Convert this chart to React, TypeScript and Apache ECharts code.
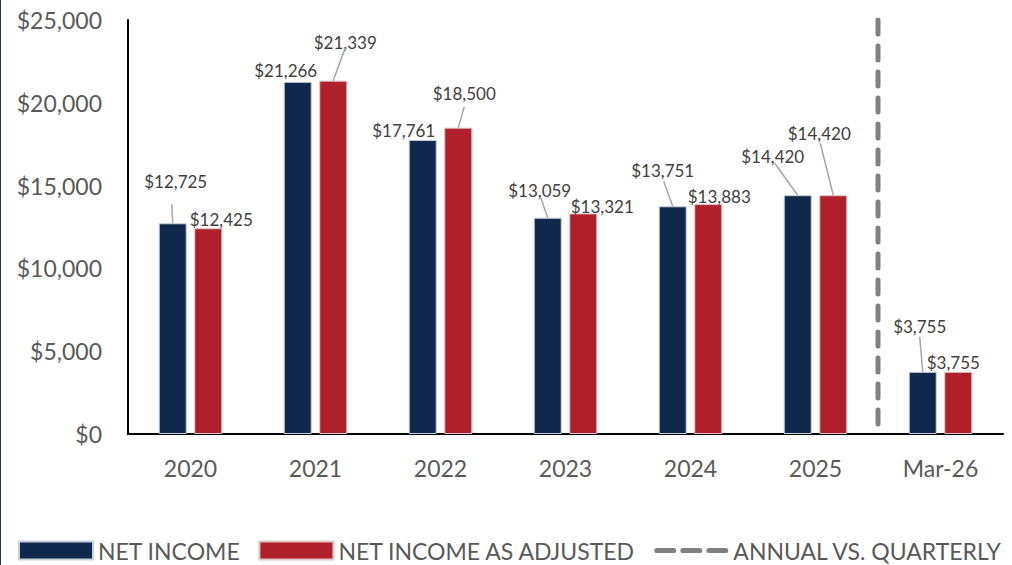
import React, { useEffect, useRef } from "react";
import * as echarts from "echarts";

const categories = ["2020", "2021", "2022", "2023", "2024", "2025", "Mar-26"];
const netIncome = [12725, 21266, 17761, 13059, 13751, 14420, 3755];
const netIncomeAdjusted = [12425, 21339, 18500, 13321, 13883, 14420, 3755];
const yMin = 0;
const yMax = 25000;
const yInterval = 5000;
const seriesNames = ["NET INCOME", "NET INCOME AS ADJUSTED", "ANNUAL VS. QUARTERLY"];
// divider sits at the boundary before the quarterly category
const dividerIndex = categories.indexOf("Mar-26");

// label placement (pixel offsets from default top position)
const niLabelOffsets = [[3, -33], [-12, -3], [-19, -1], [-8, -19], [-10, -27], [-25, -30], [-3, -37]];
const adjLabelOffsets = [[13, 0], [12, -30], [6, -26], [19, 2], [11, 1], [-14, -53], [-5, -1]];
// leader line end point, relative to bar top centre (null = no leader line)
const niLeaders: (number[] | null)[] = [[-1, -19], null, null, [-7, -20], [-9, -25], [-23, -32], [-3, -35]];
const adjLeaders: (number[] | null)[] = [null, [12, -33], [6, -21], null, null, [-13, -52], null];

const FONT = "Lato";
const NAVY = "#0f284b";
const RED = "#b0202a";
const TEXT = "#595959";
const BAR_WIDTH = 28;
const BAR_GAP = 0.27;
const BAR_SHIFT = (BAR_WIDTH + BAR_WIDTH * BAR_GAP) / 2;

const DASH_ICON =
  "path://M2.5 0H18.5A2.5 2.5 0 0 1 18.5 5H2.5A2.5 2.5 0 0 1 2.5 0Z" +
  "M27.5 0H43.5A2.5 2.5 0 0 1 43.5 5H27.5A2.5 2.5 0 0 1 27.5 0Z" +
  "M52.5 0H68.5A2.5 2.5 0 0 1 68.5 5H52.5A2.5 2.5 0 0 1 52.5 0Z";

const money = (v: number) => "$" + Number(v).toLocaleString("en-US");

function leaderSeries(values: number[], leaders: (number[] | null)[], shift: number) {
  return {
    type: "custom",
    xAxisIndex: 0,
    silent: true,
    z: 3,
    renderItem: (params: any, api: any) => {
      const l = leaders[params.dataIndex];
      if (!l) return null;
      const p = api.coord([api.value(0), api.value(1)]);
      const x = p[0] + shift;
      const y = p[1];
      return {
        type: "line",
        shape: { x1: x, y1: y, x2: x + l[0], y2: y + l[1] },
        style: { stroke: "#a6a6a6", lineWidth: 1.5 },
      };
    },
    data: values.map((v, i) => [i, v]),
  };
}

export default function App() {
  const ref = useRef<HTMLDivElement>(null);
  useEffect(() => {
    if (!ref.current) return;
    const chart = echarts.init(ref.current, undefined, { renderer: "svg" });
    const labelBase = {
      show: true,
      position: "top",
      distance: 0,
      fontFamily: FONT,
      fontSize: 17,
      color: "#404040",
      formatter: (p: any) => money(p.value),
    };
    chart.setOption({
      animation: false,
      textStyle: { fontFamily: FONT },
      grid: { left: 128, right: 9, top: 20, bottom: 131, containLabel: false },
      legend: {
        left: 18,
        top: 539,
        padding: 0,
        itemWidth: 74,
        itemHeight: 18,
        itemGap: 18,
        textStyle: { fontFamily: FONT, fontSize: 23, color: TEXT },
        data: [
          { name: seriesNames[0], icon: "rect" },
          { name: seriesNames[1], icon: "rect" },
          { name: seriesNames[2], icon: DASH_ICON },
        ],
      },
      xAxis: [
        {
          type: "category",
          data: categories,
          axisLine: { show: true, lineStyle: { color: "#000", width: 2 } },
          axisTick: { show: false },
          axisLabel: { fontFamily: FONT, fontSize: 23, color: TEXT, margin: 22 },
        },
        {
          type: "value",
          min: 0,
          max: categories.length,
          show: false,
        },
      ],
      yAxis: {
        type: "value",
        min: yMin,
        max: yMax,
        interval: yInterval,
        axisLine: { show: true, lineStyle: { color: "#000", width: 2 } },
        axisTick: { show: false },
        splitLine: { show: false },
        axisLabel: {
          fontFamily: FONT,
          fontSize: 23,
          color: TEXT,
          margin: 26,
          formatter: (v: number) => money(v),
        },
      },
      series: [
        {
          name: seriesNames[0],
          type: "bar",
          barWidth: BAR_WIDTH,
          barGap: BAR_GAP * 100 + "%",
          itemStyle: { color: NAVY, borderColor: "#c9d0da", borderWidth: 1 },
          label: labelBase,
          labelLayout: (p: any) => ({
            dx: niLabelOffsets[p.dataIndex][0],
            dy: niLabelOffsets[p.dataIndex][1],
          }),
          data: netIncome,
        },
        {
          name: seriesNames[1],
          type: "bar",
          barWidth: BAR_WIDTH,
          barGap: BAR_GAP * 100 + "%",
          itemStyle: { color: RED, borderColor: "#e0c4c6", borderWidth: 1 },
          label: labelBase,
          labelLayout: (p: any) => ({
            dx: adjLabelOffsets[p.dataIndex][0],
            dy: adjLabelOffsets[p.dataIndex][1],
          }),
          data: netIncomeAdjusted,
        },
        leaderSeries(netIncome, niLeaders, -BAR_SHIFT),
        leaderSeries(netIncomeAdjusted, adjLeaders, BAR_SHIFT),
        {
          name: seriesNames[2],
          type: "line",
          xAxisIndex: 1,
          symbol: "none",
          lineStyle: { color: "#808080", width: 5, type: [14, 12], cap: "round" },
          itemStyle: { color: "#808080" },
          data: [
            [dividerIndex, yMax],
            [dividerIndex, yMin],
          ],
        },
      ],
    });
    return () => chart.dispose();
  }, []);
  return (
    <div style={{ position: "absolute", left: 0, top: 0, width: 1012, height: 565, background: "#fff" }}>
      <div ref={ref} style={{ position: "absolute", left: 0, top: 0, width: 1012, height: 565 }} />
      <div style={{ position: "absolute", left: 0, top: 0, width: 1, height: 565, background: "#1f3864" }} />
    </div>
  );
}
